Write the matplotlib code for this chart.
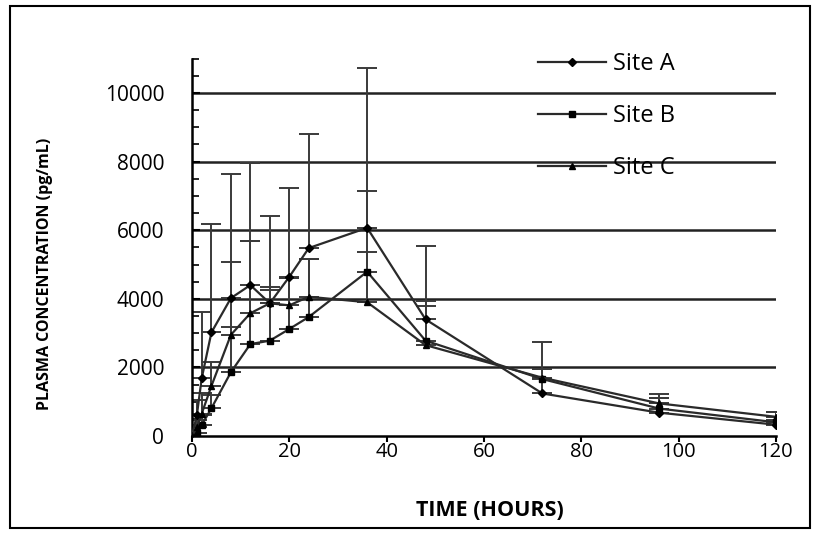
import matplotlib
matplotlib.use('Agg')
import matplotlib.pyplot as plt
from matplotlib.patches import Rectangle
from matplotlib.ticker import MultipleLocator

# Data
hours = [0, 1, 2, 4, 8, 12, 16, 20, 24, 36, 48, 72, 96, 120]

site_a = [0, 600, 1680, 3020, 4020, 4400, 3870, 4640, 5480, 6070, 3400, 1240, 680, 330]
site_b = [0, 100, 320, 810, 1860, 2680, 2780, 3120, 3470, 4790, 2780, 1660, 800, 400]
site_c = [0, 250, 650, 1460, 2950, 3580, 3870, 3810, 4060, 3900, 2650, 1700, 950, 560]

# upper error bars only
err_a = [0, 450, 1940, 3160, 3620, 3550, 2540, 2580, 3320, 4650, 2140, 1490, 440, 150]
err_b = [0, 150, 300, 400, 1330, 3010, 1470, 1500, 1690, 2340, 1000, 290, 420, 310]
err_c = [0, 220, 600, 700, 2130, 2110, 480, 810, 1100, 1470, 1300, 250, 170, 150]

series_names = ['Site A', 'Site B', 'Site C']
markers = ['D', 's', '^']
marker_sizes = [4, 5, 5]

plt.rcParams['font.family'] = ['Open Sans', 'DejaVu Sans']

fig = plt.figure(figsize=(8.2, 5.34), dpi=100)
ax = fig.add_axes([0.2341, 0.1835, 0.7122, 0.7065])

line_color = '#2a2a2a'
err_color = '#3a3a3a'

for vals, errs, name, mk, ms in zip([site_a, site_b, site_c],
                                    [err_a, err_b, err_c],
                                    series_names, markers, marker_sizes):
    # error bars only where there is an error value
    idx = [i for i, e in enumerate(errs) if e > 0]
    ax.errorbar([hours[i] for i in idx], [vals[i] for i in idx],
                yerr=[[0] * len(idx), [errs[i] for i in idx]], fmt='none',
                ecolor=err_color, elinewidth=1.4, capsize=7, capthick=1.4, zorder=2)
    ax.plot(hours, vals, color=line_color, lw=1.6, marker=mk, markersize=ms,
            markerfacecolor='black', markeredgecolor='black', label=name, zorder=3)

ax.set_xlim(0, 120)
ax.set_ylim(0, 11000)
ax.set_xticks([0, 20, 40, 60, 80, 100, 120])
ax.set_yticks([0, 2000, 4000, 6000, 8000, 10000])
ax.yaxis.set_minor_locator(MultipleLocator(500))

for y in [2000, 4000, 6000, 8000, 10000]:
    ax.axhline(y, color='#222222', lw=1.8, zorder=1)

ax.spines['top'].set_visible(False)
ax.spines['right'].set_visible(False)
ax.spines['left'].set_linewidth(1.8)
ax.spines['bottom'].set_linewidth(1.8)
ax.tick_params(axis='x', direction='out', length=4, width=1.5, labelsize=14.5, pad=0)
ax.tick_params(axis='y', which='major', direction='in', length=6, width=1.5, labelsize=15, pad=20)
ax.tick_params(axis='y', which='minor', direction='in', length=5, width=1.2)

ax.set_xlabel('TIME (HOURS)', fontsize=15.5, fontweight='bold')
ax.set_ylabel('PLASMA CONCENTRATION (pg/mL)', fontsize=11.5, fontweight='bold')
ax.xaxis.set_label_coords(0.51, -0.17)
ax.yaxis.set_label_coords(-0.238, 0.43)

ax.legend(loc='upper left', bbox_to_anchor=(0.556, 1.074), frameon=False,
          fontsize=17, labelspacing=1.18, handlelength=2.9, handletextpad=0.3)

# outer border
fig.patches.append(Rectangle((0.012, 0.012), 0.976, 0.976, transform=fig.transFigure,
                             fill=False, edgecolor='black', lw=1.5))

fig.savefig('out.png', dpi=100)
